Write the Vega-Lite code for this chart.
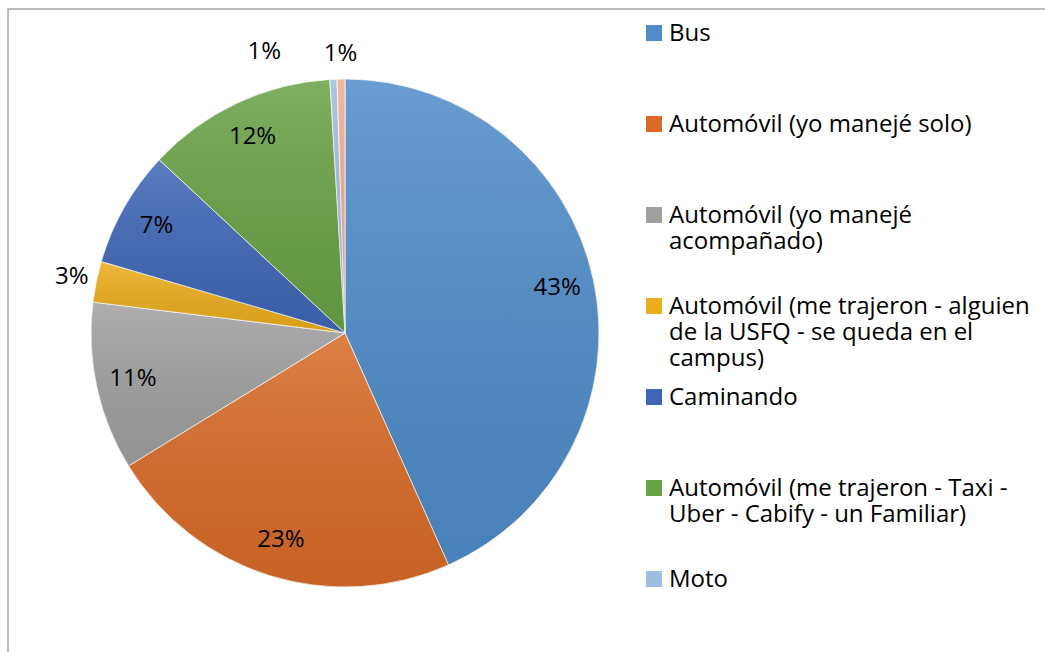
{
  "$schema": "https://vega.github.io/schema/vega-lite/v6.json",
  "width": 674,
  "height": 648,
  "autosize": {"type": "none"},
  "padding": {"left": 8, "top": 9, "right": 363, "bottom": -5},
  "background": "white",
  "config": {
    "font": "Open Sans",
    "view": {"stroke": null},
    "legend": {"strokeColor": "#a6a6a6", "strokeWidth": 1.5}
  },
  "data": {
    "values": [
      {"modo": "Bus", "valor": 43.3, "etiqueta": "43%", "orden": 1},
      {"modo": "Automóvil (yo manejé solo)", "valor": 22.9, "etiqueta": "23%", "orden": 2},
      {"modo": "Automóvil (yo manejé acompañado)", "valor": 10.7, "etiqueta": "11%", "orden": 3},
      {"modo": "Automóvil (me trajeron - alguien de la USFQ - se queda en el campus)", "valor": 2.6, "etiqueta": "3%", "orden": 4},
      {"modo": "Caminando", "valor": 7.4, "etiqueta": "7%", "orden": 5},
      {"modo": "Automóvil (me trajeron - Taxi - Uber - Cabify - un Familiar)", "valor": 12.1, "etiqueta": "12%", "orden": 6},
      {"modo": "Moto", "valor": 0.45, "etiqueta": "1%", "orden": 7},
      {"modo": "Otro", "valor": 0.5, "etiqueta": "1%", "orden": 8}
    ]
  },
  "encoding": {
    "theta": {"field": "valor", "type": "quantitative", "stack": true},
    "order": {"field": "orden", "type": "quantitative"}
  },
  "layer": [
    {
      "mark": {"type": "arc", "outerRadius": 254, "stroke": "white", "strokeWidth": 0.75},
      "encoding": {
        "color": {
          "field": "modo",
          "type": "nominal",
          "scale": {
            "domain": ["Bus", "Automóvil (yo manejé solo)", "Automóvil (yo manejé acompañado)", "Automóvil (me trajeron - alguien de la USFQ - se queda en el campus)", "Caminando", "Automóvil (me trajeron - Taxi - Uber - Cabify - un Familiar)", "Moto", "Otro"],
            "range": ["#4f8cca", "#d96b27", "#a0a0a0", "#ecad1c", "#3f66b6", "#69a245", "#9ebedf", "#f2ac90"]
          },
          "legend": {
            "orient": "none",
            "legendX": 0,
            "legendY": 0,
            "title": " ",
            "titleOrient": "left",
            "titleFontSize": 1,
            "titlePadding": 633,
            "symbolType": "M-1,0.375H1V2.375H-1Z",
            "symbolSize": 256,
            "symbolStrokeWidth": 0,
            "labelFont": "Open Sans",
            "labelFontSize": 24,
            "labelColor": "#000000",
            "labelLimit": 1000,
            "labelOffset": 3,
            "labelBaseline": "top",
            "labelLineHeight": 31,
            "rowPadding": 3,
            "padding": 1,
            "labelExpr": "datum.label == 'Automóvil (yo manejé acompañado)' ? ['Automóvil (yo manejé', 'acompañado)', ' '] : datum.label == 'Automóvil (me trajeron - alguien de la USFQ - se queda en el campus)' ? ['Automóvil (me trajeron - alguien', 'de la USFQ - se queda en el', 'campus)'] : datum.label == 'Automóvil (me trajeron - Taxi - Uber - Cabify - un Familiar)' ? ['Automóvil (me trajeron - Taxi -', 'Uber - Cabify - un Familiar)', ' '] : datum.label == 'Otro' ? ['Otro Otro Otro Otro Otro Otro Otro Otro Otro Otro Otro Otro Otro Otro', ' ', ' '] : [datum.label, ' ', ' ']",
            "encode": {
              "labels": {"update": {"dy": {"value": -28}, "opacity": [{"test": "datum.value === 'Otro'", "value": 0}, {"value": 1}]}},
              "symbols": {"update": {"opacity": [{"test": "datum.value === 'Otro'", "value": 0}, {"value": 1}]}}
            }
          }
        }
      }
    },
    {
      "mark": {
        "type": "arc",
        "outerRadius": 254,
        "fill": {"gradient": "linear", "x1": 0, "y1": 0, "x2": 0, "y2": 1, "stops": [{"offset": 0, "color": "rgba(255,255,255,0.15)"}, {"offset": 1, "color": "rgba(0,0,0,0.08)"}]}
      }
    },
    {
      "mark": {"type": "text", "radius": 217, "fontSize": 24, "font": "Open Sans", "color": "#000000"},
      "encoding": {
        "text": {"condition": {"test": "datum.valor >= 5", "field": "etiqueta"}, "value": ""}
      }
    },
    {
      "mark": {"type": "text", "radius": 279, "fontSize": 24, "font": "Open Sans", "color": "#000000"},
      "encoding": {
        "text": {"condition": {"test": "datum.valor < 5 && datum.modo != 'Moto'", "field": "etiqueta"}, "value": ""}
      }
    },
    {
      "mark": {"type": "text", "radius": 281, "dx": -68, "fontSize": 24, "font": "Open Sans", "color": "#000000"},
      "encoding": {
        "text": {"condition": {"test": "datum.modo == 'Moto'", "field": "etiqueta"}, "value": ""}
      }
    }
  ]
}
